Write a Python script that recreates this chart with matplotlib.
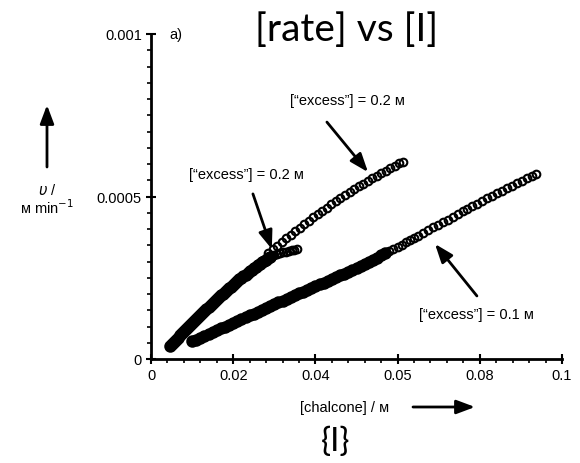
import matplotlib
matplotlib.use("Agg")
import matplotlib.pyplot as plt
from matplotlib.patches import FancyArrowPatch
from matplotlib.ticker import MultipleLocator, FixedLocator, FixedFormatter

plt.rcParams['font.family'] = ['Liberation Sans', 'DejaVu Sans']

# excess = 0.2 M, first run (dense band + hook)
run1_x = [0.0046, 0.0050, 0.0055, 0.0060, 0.0065, 0.0070, 0.0075, 0.0080, 0.0085, 0.0090,
          0.0095, 0.0100, 0.0105, 0.0110, 0.0115, 0.0120, 0.0125, 0.0130, 0.0135, 0.0140,
          0.0145, 0.0150, 0.0155, 0.0160, 0.0165, 0.0170, 0.0175, 0.0180, 0.0185, 0.0190,
          0.0195, 0.0200, 0.0205, 0.0210, 0.0215, 0.0220, 0.0225, 0.0230, 0.0235, 0.0240,
          0.0245, 0.0250, 0.0255, 0.0260, 0.0265, 0.0270, 0.0275, 0.0280, 0.0285, 0.0290,
          0.0295, 0.0300, 0.0307, 0.0314, 0.0321, 0.0328, 0.0335, 0.0342, 0.0349, 0.0355]
run1_y = [0.000040, 0.000045, 0.000052, 0.000059, 0.000066, 0.000073, 0.000079, 0.000086, 0.000092, 0.000099,
          0.000105, 0.000112, 0.000118, 0.000124, 0.000130, 0.000136, 0.000142, 0.000148, 0.000154, 0.000160,
          0.000166, 0.000172, 0.000178, 0.000184, 0.000190, 0.000196, 0.000201, 0.000207, 0.000212, 0.000218,
          0.000223, 0.000229, 0.000234, 0.000240, 0.000245, 0.000250, 0.000255, 0.000260, 0.000265, 0.000270,
          0.000275, 0.000280, 0.000284, 0.000289, 0.000293, 0.000298, 0.000302, 0.000306, 0.000310, 0.000314,
          0.000318, 0.000321, 0.000324, 0.000326, 0.000328, 0.000330, 0.000332, 0.000334, 0.000336, 0.000338]
run1_dense = 50  # points before the hook, recorded so close they merge

# excess = 0.2 M, second run (open circles)
run2_x = [0.0285, 0.0296, 0.0307, 0.0318, 0.0329, 0.0340, 0.0351, 0.0362, 0.0373, 0.0384,
          0.0395, 0.0406, 0.0417, 0.0428, 0.0439, 0.0450, 0.0461, 0.0472, 0.0483, 0.0494,
          0.0505, 0.0516, 0.0527, 0.0538, 0.0549, 0.0560, 0.0571, 0.0582, 0.0593, 0.0604,
          0.0612]
run2_y = [0.000325, 0.000337, 0.000349, 0.000360, 0.000372, 0.000383, 0.000394, 0.000404, 0.000415, 0.000426,
          0.000436, 0.000446, 0.000456, 0.000466, 0.000476, 0.000485, 0.000495, 0.000504, 0.000513, 0.000522,
          0.000531, 0.000539, 0.000548, 0.000556, 0.000564, 0.000572, 0.000580, 0.000587, 0.000595, 0.000602,
          0.000607]

# excess = 0.1 M
run3_x = [0.010, 0.011, 0.012, 0.013, 0.014, 0.015, 0.016, 0.017, 0.018, 0.019,
          0.020, 0.021, 0.022, 0.023, 0.024, 0.025, 0.026, 0.027, 0.028, 0.029,
          0.030, 0.031, 0.032, 0.033, 0.034, 0.035, 0.036, 0.037, 0.038, 0.039,
          0.040, 0.041, 0.042, 0.043, 0.044, 0.045, 0.046, 0.047, 0.048, 0.049,
          0.050, 0.051, 0.052, 0.053, 0.054, 0.055, 0.056, 0.057, 0.058, 0.059,
          0.060, 0.061, 0.062, 0.063, 0.064, 0.065,
          0.0662, 0.0674, 0.0686, 0.0698, 0.0710, 0.0722, 0.0734, 0.0746, 0.0758, 0.0770,
          0.0782, 0.0794, 0.0806, 0.0818, 0.0830, 0.0842, 0.0854, 0.0866, 0.0878, 0.0890,
          0.0902, 0.0914, 0.0926, 0.0936]
run3_y = [0.000054, 0.000060, 0.000066, 0.000071, 0.000077, 0.000083, 0.000089, 0.000095, 0.000100, 0.000106,
          0.000112, 0.000118, 0.000123, 0.000129, 0.000134, 0.000140, 0.000146, 0.000151, 0.000157, 0.000162,
          0.000168, 0.000174, 0.000179, 0.000185, 0.000190, 0.000196, 0.000202, 0.000207, 0.000213, 0.000218,
          0.000224, 0.000230, 0.000235, 0.000241, 0.000246, 0.000252, 0.000258, 0.000263, 0.000269, 0.000274,
          0.000280, 0.000286, 0.000293, 0.000299, 0.000306, 0.000312, 0.000319, 0.000325, 0.000332, 0.000338,
          0.000345, 0.000352, 0.000359, 0.000366, 0.000373, 0.000380,
          0.000388, 0.000396, 0.000405, 0.000413, 0.000421, 0.000429, 0.000437, 0.000446, 0.000454, 0.000462,
          0.000470, 0.000478, 0.000486, 0.000494, 0.000502, 0.000510, 0.000517, 0.000525, 0.000533, 0.000541,
          0.000549, 0.000556, 0.000563, 0.000569]
run3_dense = 48

x_ticks = [0, 0.02, 0.04, 0.06, 0.08, 0.1]
x_tick_labels = ["0", "0.02", "0.04", "0.05", "0.08", "0.1"]
y_ticks = [0, 0.0005, 0.001]
y_tick_labels = ["0", "0.0005", "0.001"]

fig = plt.figure(figsize=(5.8, 4.64), dpi=100)
ax = fig.add_axes([151 / 580, 1 - 360 / 464, 411 / 580, 325 / 464])

mk = dict(linestyle="none", marker="o", mfc="none", mec="black", ms=5.5, mew=1.5)
thick = dict(linestyle="none", marker="o", mfc="black", mec="black", ms=7.5, mew=1.5)
ax.plot(run1_x[:run1_dense], run1_y[:run1_dense], **thick)
ax.plot(run1_x, run1_y, **mk)
ax.plot(run2_x, run2_y, **mk)
ax.plot(run3_x[:run3_dense], run3_y[:run3_dense], **thick)
ax.plot(run3_x, run3_y, **mk)

ax.set_xlim(0, 0.1)
ax.set_ylim(0, 0.001)
ax.xaxis.set_major_locator(FixedLocator(x_ticks))
ax.xaxis.set_major_formatter(FixedFormatter(x_tick_labels))
ax.yaxis.set_major_locator(FixedLocator(y_ticks))
ax.yaxis.set_major_formatter(FixedFormatter(y_tick_labels))
ax.xaxis.set_minor_locator(MultipleLocator(0.004))
ax.yaxis.set_minor_locator(MultipleLocator(0.00005))
ax.tick_params(which="major", direction="inout", length=7, width=1.5, labelsize=10.5, pad=3)
ax.tick_params(which="minor", direction="out", length=3, width=1.2)

for side in ["top", "right"]:
    ax.spines[side].set_visible(False)
for side in ["left", "bottom"]:
    ax.spines[side].set_linewidth(2)

arrow = dict(arrowstyle="-|>,head_length=0.8,head_width=0.3", lw=2, color="black",
             mutation_scale=14, shrinkA=0, shrinkB=0)

ax.annotate("", xy=(0.0528, 0.000575), xytext=(0.0428, 0.000729), arrowprops=arrow)
ax.text(0.0477, 0.000797, "[“excess”] = 0.2 ᴍ", ha="center", va="center", fontsize=10.5)

ax.annotate("", xy=(0.0294, 0.000338), xytext=(0.0248, 0.000508), arrowprops=arrow)
ax.text(0.0231, 0.000569, "[“excess”] = 0.2 ᴍ", ha="center", va="center", fontsize=10.5)

ax.annotate("", xy=(0.0691, 0.000354), xytext=(0.0793, 0.000194), arrowprops=arrow)
ax.text(0.0793, 0.000138, "[“excess”] = 0.1 ᴍ", ha="center", va="center", fontsize=10.5)

# y-axis label with arrow
fig.text(47 / 580, 1 - 200 / 464, "$\\upsilon$ /\nᴍ min$^{-1}$", ha="center", va="center",
         fontsize=10.5, linespacing=1.0)
fig.add_artist(FancyArrowPatch((47 / 580, 1 - 168 / 464), (47 / 580, 1 - 106 / 464),
                               transform=fig.transFigure, **arrow))

# x-axis label with arrow
fig.text(345 / 580, 1 - 408 / 464, "[chalcone] / ᴍ", ha="center", va="center", fontsize=10.5)
fig.add_artist(FancyArrowPatch((413 / 580, 1 - 408 / 464), (475 / 580, 1 - 408 / 464),
                               transform=fig.transFigure, **arrow))

fig.text(176 / 580, 1 - 35 / 464, "a)", ha="center", va="center", fontsize=10.5)

# handwritten notes
fig.text(347 / 580, 1 - 30 / 464, "[rate] vs [I]", ha="center", va="center", fontsize=28,
         family="Lato")
fig.text(336 / 580, 1 - 442 / 464, "{I}", ha="center", va="center", fontsize=24,
         family="Lato")

fig.savefig("out.png", dpi=100)
